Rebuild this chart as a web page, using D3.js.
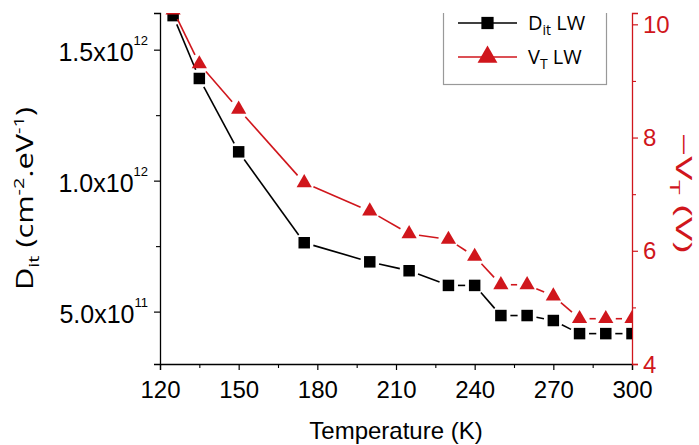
<!DOCTYPE html>
<html><head><meta charset="utf-8">
<script src="https://cdn.jsdelivr.net/npm/d3@7"></script>
<style>body{margin:0;background:#fff}</style>
</head><body><svg id="c" width="699" height="445"></svg>
<script>
const temps = [125,135,150,175,200,215,230,240,250,260,270,280,290,300];
const ditValues = [1.63e12,1.39e12,1.11e12,7.63e11,6.9e11,6.56e11,6.0e11,6.0e11,4.85e11,4.85e11,4.66e11,4.16e11,4.16e11,4.16e11];
const vtValues = [10.25,9.3,8.5,7.2,6.7,6.3,6.2,5.9,5.4,5.4,5.2,4.8,4.8,4.8];
const xTicks = [120,150,180,210,240,270,300];
const xMinorTicks = [135,165,195,225,255,285];
const leftTicks = [5e11,1e12,1.5e12];
const leftTickLabels = [["5.0x10","11"],["1.0x10","12"],["1.5x10","12"]];
const leftMinorTicks = [7.5e11,1.25e12];
const rightTicks = [4,6,8,10];
const rightMinorTicks = [5,7,9];
const legendLabels = [["D","it"," LW"],["V","T"," LW"]];

const RED = "#d0161c";
const ARIAL = "'Liberation Sans', Arial, sans-serif";
const SANS = "'Open Sans', 'Noto Sans', sans-serif";
const L = 160, R = 632, T = 13, B = 364;

const svg = d3.select("#c");
const x = d3.scaleLinear().domain([120,300]).range([L,R]);
const yL = d3.scaleLinear().domain([3e11,1.64e12]).range([B,T]);
const yR = d3.scaleLinear().domain([4,10.2]).range([B,T]);

svg.append("defs").append("clipPath").attr("id","plotclip")
  .append("rect").attr("x",L).attr("y",T).attr("width",R-L).attr("height",B-T+20);

function styleAxis(g, color, fs){
  g.select(".domain").attr("stroke",color).attr("stroke-width",1.3);
  g.selectAll(".tick line").attr("stroke",color).attr("stroke-width",1.2);
  g.selectAll(".tick text").attr("fill",color).style("font-family",ARIAL).style("font-size",fs+"px");
}
const gx = svg.append("g").attr("transform",`translate(0,${B})`)
  .call(d3.axisBottom(x).tickValues(xTicks).tickSize(6).tickPadding(11).tickFormat(d3.format("d")));
styleAxis(gx,"#000",24);
const gxm = svg.append("g").attr("transform",`translate(0,${B})`)
  .call(d3.axisBottom(x).tickValues(xMinorTicks).tickSize(4).tickFormat(""));
gxm.select(".domain").remove(); gxm.selectAll(".tick line").attr("stroke","#000").attr("stroke-width",1.1);

const gl = svg.append("g").attr("transform",`translate(${L},0)`)
  .call(d3.axisLeft(yL).tickValues(leftTicks).tickSize(6).tickPadding(6).tickFormat(""));
styleAxis(gl,"#000",25);
gl.selectAll(".tick text").attr("dy","0.44em").each(function(d,i){
  const t = d3.select(this);
  t.append("tspan").text(leftTickLabels[i][0]);
  t.append("tspan").attr("dy",-16).style("font-size","13px").text(leftTickLabels[i][1]);
});
const glm = svg.append("g").attr("transform",`translate(${L},0)`)
  .call(d3.axisLeft(yL).tickValues(leftMinorTicks).tickSize(4).tickFormat(""));
glm.select(".domain").remove(); glm.selectAll(".tick line").attr("stroke","#000").attr("stroke-width",1.1);

const gr = svg.append("g").attr("transform",`translate(${R},0)`)
  .call(d3.axisRight(yR).tickValues(rightTicks).tickSize(6).tickPadding(5).tickFormat(d3.format("d")));
styleAxis(gr,RED,24);
gr.selectAll(".tick text").attr("dy","0.34em");
const grm = svg.append("g").attr("transform",`translate(${R},0)`)
  .call(d3.axisRight(yR).tickValues(rightMinorTicks).tickSize(4).tickFormat(""));
grm.select(".domain").remove(); grm.selectAll(".tick line").attr("stroke",RED).attr("stroke-width",1.1);

const plot = svg.append("g").attr("clip-path","url(#plotclip)");
function drawSeries(vals, yScale, color, symType, symSize, gap){
  const pts = temps.map((t,i)=>[x(t), yScale(vals[i])]);
  for(let i=0;i<pts.length-1;i++){
    const [x0,y0]=pts[i],[x1,y1]=pts[i+1];
    const dx=x1-x0, dy=y1-y0, len=Math.hypot(dx,dy);
    if(len<=2*gap) continue;
    const ux=dx/len, uy=dy/len;
    plot.append("line")
      .attr("x1",x0+ux*gap).attr("y1",y0+uy*gap)
      .attr("x2",x1-ux*gap).attr("y2",y1-uy*gap)
      .attr("stroke",color).attr("stroke-width",1.6);
  }
  plot.selectAll(null).data(pts).enter().append("path")
    .attr("d",d3.symbol().type(symType).size(symSize))
    .attr("transform",d=>`translate(${d[0]},${d[1]})`)
    .attr("fill",color);
}
drawSeries(ditValues, yL, "#000", d3.symbolSquare, 132, 9.5);
drawSeries(vtValues, yR, RED, d3.symbolTriangle, 100, 10);

const lg = plot.append("g");
lg.append("rect").attr("x",443.5).attr("y",-5).attr("width",163).attr("height",89.5)
  .attr("fill","#fff").attr("stroke","#999").attr("stroke-width",1.2);
const legRows = [{y:23,color:"#000",type:d3.symbolSquare,size:150},{y:57,color:RED,type:d3.symbolTriangle,size:170}];
legRows.forEach((r,i)=>{
  lg.append("line").attr("x1",458).attr("x2",517).attr("y1",r.y).attr("y2",r.y)
    .attr("stroke",r.color).attr("stroke-width",1.6);
  lg.append("path").attr("d",d3.symbol().type(r.type).size(r.size)())
    .attr("transform",`translate(487.5,${r.y})`).attr("fill",r.color);
  const t = lg.append("text").attr("x",528).attr("y",r.y+7)
    .style("font-family",SANS).style("font-size","20px").attr("fill","#000");
  t.append("tspan").text(legendLabels[i][0]);
  t.append("tspan").attr("dy",5).style("font-size","14px").text(legendLabels[i][1]);
  t.append("tspan").attr("dy",-5).text(legendLabels[i][2]);
});

svg.append("text").attr("x",(L+R)/2).attr("y",439).attr("text-anchor","middle")
  .style("font-family",ARIAL).style("font-size","24px").attr("fill","#000").text("Temperature (K)");

function stretched(parts, cx, cy, rot, target, color, fs){
  const t = svg.append("text").attr("text-anchor","middle").attr("fill",color)
    .style("font-family",SANS).style("font-size",fs+"px");
  parts.forEach(p=>{
    const s = t.append("tspan").text(p.text);
    if(p.dy) s.attr("dy",p.dy);
    if(p.fs) s.style("font-size",p.fs+"px");
  });
  const w = t.node().getComputedTextLength();
  t.attr("transform",`translate(${cx},${cy}) rotate(${rot}) scale(${target/w},1)`);
}
stretched([
  {text:"D"},{text:"it",dy:6,fs:15},{text:" (cm",dy:-6},{text:"-2",dy:-9,fs:15},
  {text:".eV",dy:9},{text:"-1",dy:-9,fs:15},{text:")",dy:9}
], 33, 198.5, -90, 183, "#000", 23);
stretched([
  {text:"\u2212V"},{text:"T",dy:6,fs:14},{text:" (V)",dy:-6}
], 676, 193, 90, 120, RED, 22);
</script></body></html>
